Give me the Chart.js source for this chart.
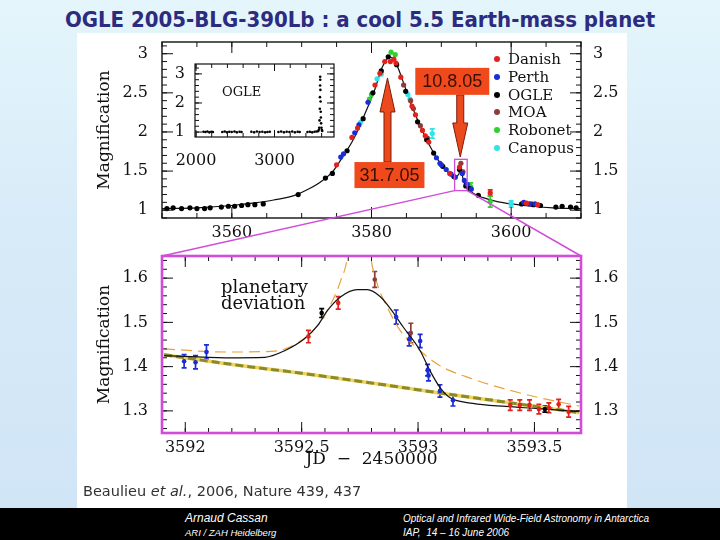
<!DOCTYPE html>
<html lang="en">
<head>
<meta charset="UTF-8">
<title>OGLE 2005-BLG-390Lb</title>
<script src="https://cdn.jsdelivr.net/npm/chart.js@4"></script>
<style>
  body { margin: 0; width: 720px; height: 540px; overflow: hidden; position: relative;
    background: linear-gradient(to bottom, #e4f5fb 0px, #d8ebf8 220px, #cfe4f6 540px); }
  .abs { position: absolute; }
  #panel { left: 77px; top: 33px; width: 550px; height: 475px; background: #fff; }
  #title { left: 0; top: 7px; width: 720px; text-align: center; white-space: nowrap;
    font: bold 22px "DejaVu Sans Condensed", "DejaVu Sans", sans-serif; color: #2c2b7f; }
  #legend { left: 491px; top: 51px; font: 15px "DejaVu Serif", serif; color: #111; }
  #legend div { height: 17.8px; line-height: 17.8px; white-space: nowrap; }
  #legend span { display: inline-block; width: 6px; height: 6px; border-radius: 3px; margin: 0 8px 2px 3px; vertical-align: middle; }
  #ogleTag { left: 222px; top: 84px; font: 13px "DejaVu Serif", serif; color: #111; }
  #dev { left: 221px; top: 279px; font: 18px "DejaVu Serif", serif; color: #111; line-height: 16px; }
  #cite { left: 83px; top: 483px; font: 14.5px "DejaVu Sans", sans-serif; color: #333; }
  #foot { left: 0; top: 508px; width: 720px; height: 32px; background: #000; color: #fff;
    font-family: "Liberation Sans", Arial, sans-serif; font-style: italic; }
  #foot div { position: absolute; white-space: nowrap; }
  canvas { position: absolute; }
</style>
</head>
<body>
<div id="panel" class="abs"></div>
<div id="title" class="abs">OGLE 2005-BLG-390Lb : a cool 5.5 Earth-mass planet</div>

<canvas id="topChart" width="540" height="212" style="left:90px;top:36px;width:540px;height:212px"></canvas>
<canvas id="insetChart" width="190" height="112" style="left:150px;top:58px;width:190px;height:112px"></canvas>
<canvas id="zoomChart" width="540" height="222" style="left:90px;top:250px;width:540px;height:222px"></canvas>
<canvas id="overlay" width="720" height="540" style="left:0;top:0;width:720px;height:540px;pointer-events:none"></canvas>

<div id="legend" class="abs"></div>
<div id="ogleTag" class="abs">OGLE</div>
<div id="dev" class="abs">planetary<br>deviation</div>
<div id="cite" class="abs">Beaulieu <i>et al.</i>, 2006, Nature 439, 437</div>
<div id="foot" class="abs">
  <div style="left:185px;top:3px;font-size:12px">Arnaud Cassan</div>
  <div style="left:185px;top:19px;font-size:9.5px">ARI / ZAH Heidelberg</div>
  <div style="left:403px;top:5px;font-size:10px">Optical and Infrared Wide-Field Astronomy in Antarctica</div>
  <div style="left:403px;top:19px;font-size:10px">IAP,&nbsp; 14 – 16 June 2006</div>
</div>

<script>
// observatories
const obsNames  = ['Danish', 'Perth', 'OGLE', 'MOA', 'Robonet', 'Canopus'];
const obsColors = ['#e3201b', '#1b2bd6', '#000000', '#8f3b37', '#2fd02f', '#30e2ea'];

// full light curve, [JD-2450000, magnification, error]
const danishTop = [[3575.0,1.58],[3577.2,1.93],[3578.0,2.05],[3580.5,2.60],[3581.2,2.75],[3581.9,2.90],[3582.7,2.90],
  [3583.2,2.93],[3583.5,2.88],[3584.2,2.70],[3585.8,2.33],[3586.3,2.22],[3587.3,2.02],[3587.7,1.95],[3588.2,1.87],
  [3591.2,1.47],[3592.6,1.55],[3597.0,1.22,0.04],[3602.2,1.09],[3603.8,1.07]];
const perthTop = [[3575.6,1.68],[3576.0,1.72],[3577.6,1.99],[3578.2,2.09],[3579.5,2.38],[3589.3,1.67],[3589.8,1.60],
  [3590.0,1.58],[3590.7,1.52],[3591.4,1.46],[3592.0,1.42],[3593.0,1.47],[3593.3,1.38],[3593.7,1.33],[3594.3,1.27],
  [3601.8,1.10],[3602.6,1.08],[3603.4,1.08]];
const ogleTop = [[3550.7,1.02],[3551.6,1.03],[3552.8,1.02],[3554.0,1.03],[3555.0,1.02],[3556.1,1.02],[3556.9,1.03],
  [3558.5,1.04],[3559.5,1.05],[3560.4,1.05],[3561.4,1.06],[3562.3,1.07],[3563.3,1.07],[3564.5,1.08],[3569.5,1.20],
  [3573.4,1.41],[3574.4,1.47],[3576.5,1.76],[3578.8,2.17],[3580.2,2.50],[3581.4,2.78],[3582.4,2.96],[3583.6,2.86],
  [3584.9,2.52],[3586.6,2.13],[3587.9,1.90],[3588.9,1.73],[3590.2,1.56],[3591.8,1.43],[3592.6,1.52],[3593.5,1.31],
  [3594.0,1.28],[3595.3,1.19],[3601.5,1.08],[3603.2,1.07],[3604.2,1.06],[3606.4,1.04],[3607.3,1.05],[3608.5,1.04],[3609.3,1.03]];
const moaTop = [[3584.6,2.60],[3585.6,2.40],[3586.0,2.30],[3587.0,2.08],[3588.0,1.92],[3592.8,1.60],[3593.1,1.49],[3602.9,1.08]];
const robonetTop = [[3579.7,2.42],[3580.0,2.48],[3582.8,3.02],[3583.4,2.99],[3594.2,1.30,0.05],[3597.0,1.11,0.07]];
const canopusTop = [[3578.4,2.12],[3580.8,2.68],[3581.4,2.74],[3585.2,2.48],[3585.5,2.42],[3588.7,1.98,0.06],[3600.0,1.08,0.04]];

// best-fit model
const modelTop = [[3550,1.02],[3555,1.03],[3560,1.06],[3563,1.09],[3566,1.13],[3569,1.19],[3571,1.27],[3573,1.38],
  [3574.5,1.50],[3576,1.70],[3577.5,1.92],[3579,2.22],[3580.5,2.55],[3581.5,2.82],[3582.6,2.96],[3583.5,2.88],
  [3584.5,2.65],[3585.7,2.35],[3587,2.07],[3588.3,1.83],[3589.7,1.62],[3591,1.48],[3592,1.43],[3592.5,1.46],
  [3592.8,1.57],[3593.1,1.40],[3593.4,1.32],[3594.5,1.22],[3596,1.16],[3598,1.11],[3600,1.08],[3603,1.05],
  [3606,1.03],[3610,1.02]];

// zoom on the planetary deviation
const perthZoom = [[3591.995,1.412,0.015],[3592.044,1.410,0.015],[3592.091,1.433,0.016],[3592.906,1.512,0.016],
  [3592.962,1.462,0.015],[3593.009,1.458,0.015],[3593.041,1.392,0.013],[3593.045,1.380,0.012],[3593.094,1.345,0.014],
  [3593.150,1.324,0.013]];
const danishZoom = [[3592.529,1.468,0.014],[3592.657,1.544,0.014],[3593.396,1.313,0.012],[3593.437,1.313,0.012],
  [3593.479,1.313,0.012],[3593.519,1.304,0.011],[3593.562,1.307,0.011],[3593.604,1.315,0.011],[3593.647,1.298,0.012]];
const ogleZoom = [[3592.586,1.521,0.010],[3593.545,1.304,0.007]];
const moaZoom = [[3592.814,1.597,0.018],[3592.969,1.476,0.022]];

const planetFit = [[3591.909,1.425],[3592.172,1.420],[3592.342,1.421],[3592.427,1.436],[3592.512,1.463],[3592.569,1.493],
  [3592.611,1.527],[3592.668,1.558],[3592.739,1.574],[3592.782,1.574],[3592.838,1.558],[3592.881,1.531],[3592.937,1.489],
  [3593.009,1.436],[3593.051,1.391],[3593.094,1.353],[3593.136,1.330],[3593.235,1.317],[3593.377,1.310],[3593.519,1.305],
  [3593.692,1.298]];
const altFit = [[3591.909,1.440],[3592.172,1.433],[3592.385,1.435],[3592.498,1.459],[3592.569,1.493],[3592.626,1.542],
  [3592.668,1.595],[3592.697,1.652],[3592.745,1.95],[3592.796,1.652],[3592.824,1.588],[3592.867,1.535],[3592.923,1.482],
  [3593.009,1.436],[3593.094,1.402],[3593.235,1.372],[3593.377,1.349],[3593.519,1.330],[3593.692,1.311]];
const singleLens = [[3591.909,1.427],[3592.2,1.405],[3592.5,1.385],[3592.8,1.363],[3593.1,1.340],[3593.4,1.318],[3593.692,1.296]];

// OGLE seasons (inset)
const ogleSeasons = [[2095,1.01],[2120,1.00],[2145,1.02],[2170,0.99],[2195,1.01],[2215,1.00],
  [2335,1.00],[2365,1.02],[2395,0.99],[2425,1.01],[2455,1.00],[2490,1.02],[2520,0.99],[2555,1.01],[2580,1.00],
  [2705,1.01],[2740,0.99],[2775,1.02],[2810,1.00],[2845,1.01],[2880,0.99],[2910,1.00],[2940,1.01],
  [3050,1.00],[3085,1.02],[3120,0.99],[3155,1.01],[3190,1.00],[3225,1.02],[3260,0.99],[3295,1.01],[3320,1.00],
  [3420,1.00],[3450,1.01],[3480,0.99],[3510,1.01],[3535,1.02],[3555,1.03],
  [3565,1.08],[3570,1.15],[3574,1.40],[3577,1.80],[3579,2.20],[3581,2.60],[3582,2.90],[3583,2.80],[3585,2.45],
  [3587,2.05],[3589,1.70],[3591,1.50],[3594,1.30],[3598,1.15],[3603,1.07],[3608,1.04]];

// axes
const topX = [3550, 3610], topY = [0.9, 3.15];
const zoomX = [3591.9, 3593.7], zoomY = [1.25, 1.65];
const insetX = [1987, 3758], insetY = [0.83, 3.34];
const topXTicks = [3560, 3580, 3600], topYTicks = [1, 1.5, 2, 2.5, 3];
const zoomXTicks = [3592, 3592.5, 3593, 3593.5], zoomYTicks = [1.3, 1.4, 1.5, 1.6];
const insetXTicks = [2000, 3000], insetYTicks = [1, 2, 3];

// annotations (data coords)
const notes = [
  { text: '31.7.05', x: 3582.57, y: 1.449, w: 70, h: 26, arrowX: 3582.29, from: 1.615, to: 2.69 },
  { text: '10.8.05', x: 3591.57, y: 2.647, w: 74, h: 27, arrowX: 3592.71, from: 2.474, to: 1.68 }
];

const steps = (a, b, s) => { const r = []; for (let v = a; v <= b + 1e-9; v += s) r.push(+v.toFixed(4)); return r; };
const pts = arr => arr.map(p => ({ x: p[0], y: p[1], e: p[2] || 0 }));

Chart.defaults.font.family = 'DejaVu Serif';
Chart.defaults.color = '#111';

const inTicks = {
  id: 'inTicks',
  afterDatasetsDraw(chart, args, o) {
    const { ctx, chartArea: a } = chart;
    const xs = chart.scales.x, ys = chart.scales.y;
    ctx.save();
    ctx.strokeStyle = '#111';
    ctx.lineWidth = 1;
    ctx.beginPath();
    const mark = (list, len, horiz) => list.forEach(v => {
      if (horiz) {
        const px = xs.getPixelForValue(v);
        if (px < a.left || px > a.right) return;
        ctx.moveTo(px, a.bottom); ctx.lineTo(px, a.bottom - len);
        ctx.moveTo(px, a.top); ctx.lineTo(px, a.top + len);
      } else {
        const py = ys.getPixelForValue(v);
        if (py < a.top || py > a.bottom) return;
        ctx.moveTo(a.left, py); ctx.lineTo(a.left + len, py);
        ctx.moveTo(a.right, py); ctx.lineTo(a.right - len, py);
      }
    });
    mark(o.xMinor, o.minor, true); mark(o.xMajor, o.major, true);
    mark(o.yMinor, o.minor, false); mark(o.yMajor, o.major, false);
    ctx.stroke();
    ctx.strokeStyle = o.frame;
    ctx.lineWidth = o.frameWidth;
    ctx.strokeRect(a.left, a.top, a.right - a.left, a.bottom - a.top);
    ctx.restore();
  }
};

const errBars = {
  id: 'errBars',
  beforeDatasetsDraw(chart) {
    const { ctx, chartArea: a } = chart;
    const xs = chart.scales.x, ys = chart.scales.y;
    ctx.save();
    ctx.beginPath(); ctx.rect(a.left, a.top, a.right - a.left, a.bottom - a.top); ctx.clip();
    chart.data.datasets.forEach(ds => {
      ds.data.forEach(p => {
        if (!p.e) return;
        const px = xs.getPixelForValue(p.x);
        const y1 = ys.getPixelForValue(p.y - p.e), y2 = ys.getPixelForValue(p.y + p.e);
        ctx.strokeStyle = ds.pointBackgroundColor;
        ctx.lineWidth = 1.7;
        ctx.beginPath();
        ctx.moveTo(px, y1); ctx.lineTo(px, y2);
        ctx.moveTo(px - 2.5, y1); ctx.lineTo(px + 2.5, y1);
        ctx.moveTo(px - 2.5, y2); ctx.lineTo(px + 2.5, y2);
        ctx.stroke();
      });
    });
    ctx.restore();
  }
};

function arrow(ctx, x, yTail, yTip) {
  const dir = yTip < yTail ? -1 : 1;
  const hw = 3.5, HW = 7.5, HL = 34;
  const yb = yTip - dir * HL;
  ctx.beginPath();
  ctx.moveTo(x - hw, yTail); ctx.lineTo(x - hw, yb); ctx.lineTo(x - HW, yb); ctx.lineTo(x, yTip);
  ctx.lineTo(x + HW, yb); ctx.lineTo(x + hw, yb); ctx.lineTo(x + hw, yTail); ctx.closePath();
  ctx.fillStyle = '#ec4a1e'; ctx.fill();
  ctx.strokeStyle = '#7d1c06'; ctx.lineWidth = 1; ctx.stroke();
}

const notesPlugin = {
  id: 'notes',
  afterDraw(chart) {
    const { ctx } = chart;
    const xs = chart.scales.x, ys = chart.scales.y;
    ctx.save();
    // zoomed region
    const bx1 = xs.getPixelForValue(zoomX[0]), bx2 = xs.getPixelForValue(zoomX[1]);
    const by1 = ys.getPixelForValue(zoomY[1]), by2 = ys.getPixelForValue(zoomY[0]);
    ctx.strokeStyle = '#d24bd9'; ctx.lineWidth = 1.3;
    ctx.strokeRect(bx1, by1, bx2 - bx1, by2 - by1);
    notes.forEach(n => arrow(ctx, xs.getPixelForValue(n.arrowX), ys.getPixelForValue(n.from), ys.getPixelForValue(n.to)));
    notes.forEach(n => {
      const cx = xs.getPixelForValue(n.x), cy = ys.getPixelForValue(n.y);
      ctx.fillStyle = '#f04a1c';
      ctx.fillRect(cx - n.w / 2, cy - n.h / 2, n.w, n.h);
      ctx.fillStyle = '#3a0f02';
      ctx.font = '18px "Liberation Sans", Arial, sans-serif';
      ctx.textAlign = 'center'; ctx.textBaseline = 'middle';
      ctx.fillText(n.text, cx, cy + 1);
    });
    ctx.restore();
  }
};

// linear axis with fixed ticks; size forced, label overflow padding removed
function axis(range, ticks, pad, size, opts) {
  return Object.assign({
    type: 'linear', min: range[0], max: range[1],
    grid: { display: false, drawTicks: false }, border: { display: false },
    afterBuildTicks: s => { s.ticks = ticks.map(v => ({ value: v })); },
    afterFit: s => {
      if (s.isHorizontal()) s.height = size; else s.width = size;
      s.paddingTop = s.paddingBottom = s.paddingLeft = s.paddingRight = 0;
    },
    ticks: { autoSkip: false, maxRotation: 0, padding: pad, font: { size: 16 }, color: '#111', callback: v => String(v) }
  }, opts);
}

function obsSets(lists, radius) {
  return lists.map((l, i) => l && {
    label: obsNames[i], data: pts(l), pointRadius: radius, pointBorderWidth: 0,
    pointBackgroundColor: obsColors[i], borderColor: obsColors[i], order: 1
  }).filter(Boolean);
}

const magTitle = { display: true, text: 'Magnification', font: { size: 17 }, padding: { top: 4, bottom: 0 }, color: '#111' };
const base = { responsive: false, animation: false, events: [] };

const topChart = new Chart(document.getElementById('topChart'), {
  type: 'scatter',
  data: {
    datasets: [
      ...obsSets([danishTop, perthTop, ogleTop, moaTop, robonetTop, canopusTop], 2.6),
      { label: 'model', data: pts(modelTop), showLine: true, pointRadius: 0, borderColor: '#111', borderWidth: 1.2,
        cubicInterpolationMode: 'monotone', order: 2 }
    ]
  },
  options: Object.assign({}, base, {
    layout: { padding: { top: 6 } },
    plugins: { legend: { display: false }, tooltip: { enabled: false },
      inTicks: { xMajor: topXTicks, xMinor: steps(3550, 3610, 5), yMajor: topYTicks, yMinor: steps(0.9, 3.1, 0.1),
        major: 11, minor: 5, frame: '#111', frameWidth: 1.4 } },
    scales: {
      x: axis(topX, topXTicks, 5, 30),
      y: axis(topY, topYTicks, 14, 72, { position: 'left', title: magTitle }),
      y2: axis(topY, topYTicks, 12, 49, { position: 'right' })
    }
  }),
  plugins: [inTicks, errBars, notesPlugin]
});

const insetChart = new Chart(document.getElementById('insetChart'), {
  type: 'scatter',
  data: { datasets: [{ label: 'OGLE', data: pts(ogleSeasons), pointRadius: 1.3, pointBorderWidth: 0, pointBackgroundColor: '#000' }] },
  options: Object.assign({}, base, {
    layout: { padding: { top: 6, right: 6 } },
    plugins: { legend: { display: false }, tooltip: { enabled: false },
      inTicks: { xMajor: insetXTicks, xMinor: steps(2000, 3700, 200), yMajor: insetYTicks, yMinor: steps(1, 3.2, 0.2),
        major: 7, minor: 4, frame: '#111', frameWidth: 1.2 } },
    scales: {
      x: axis(insetX, insetXTicks, 14, 33),
      y: axis(insetY, insetYTicks, 10, 45, { position: 'left' })
    }
  }),
  plugins: [inTicks]
});

const zoomChart = new Chart(document.getElementById('zoomChart'), {
  type: 'scatter',
  data: {
    datasets: [
      ...obsSets([danishZoom, perthZoom, ogleZoom, moaZoom], 2.3),
      { label: 'planet', data: pts(planetFit), showLine: true, pointRadius: 0, borderColor: '#111', borderWidth: 1.2,
        cubicInterpolationMode: 'monotone', order: 2 },
      { label: 'alt', data: pts(altFit), showLine: true, pointRadius: 0, borderColor: '#e9a23c', borderWidth: 1.2,
        borderDash: [11, 6], cubicInterpolationMode: 'monotone', order: 3 },
      { label: 'single', data: pts(singleLens), showLine: true, pointRadius: 0, borderColor: '#8a8a2c', borderWidth: 3,
        borderDash: [8, 4], cubicInterpolationMode: 'monotone', order: 4 },
      { label: 'single glow', data: pts(singleLens), showLine: true, pointRadius: 0, borderColor: '#f1d35c', borderWidth: 3.5,
        cubicInterpolationMode: 'monotone', order: 5 }
    ]
  },
  options: Object.assign({}, base, {
    layout: { padding: { top: 6 } },
    plugins: { legend: { display: false }, tooltip: { enabled: false },
      inTicks: { xMajor: zoomXTicks, xMinor: steps(3591.9, 3593.7, 0.1), yMajor: zoomYTicks, yMinor: steps(1.26, 1.64, 0.02),
        major: 11, minor: 5, frame: '#d24bd9', frameWidth: 2.6 } },
    scales: {
      x: axis(zoomX, zoomXTicks, 5, 39, {
        title: { display: true, text: 'JD  \u2212  2450000', font: { size: 17 }, padding: { top: 0, bottom: 2 }, color: '#111' } }),
      y: axis(zoomY, zoomYTicks, 14, 72, { position: 'left', title: magTitle }),
      y2: axis(zoomY, zoomYTicks, 12, 49, { position: 'right' })
    }
  }),
  plugins: [inTicks, errBars]
});

// connector lines from the boxed region to the zoom panel
(function () {
  const ov = document.getElementById('overlay').getContext('2d');
  const tc = document.getElementById('topChart'), zc = document.getElementById('zoomChart');
  const xs = topChart.scales.x, ys = topChart.scales.y, za = zoomChart.chartArea;
  const y0 = ys.getPixelForValue(zoomY[0]) + tc.offsetTop;
  ov.strokeStyle = '#d24bd9';
  ov.lineWidth = 1.5;
  ov.beginPath();
  ov.moveTo(xs.getPixelForValue(zoomX[0]) + tc.offsetLeft, y0);
  ov.lineTo(za.left + zc.offsetLeft, za.top + zc.offsetTop);
  ov.moveTo(xs.getPixelForValue(zoomX[1]) + tc.offsetLeft, y0);
  ov.lineTo(za.right + zc.offsetLeft, za.top + zc.offsetTop);
  ov.stroke();
})();

// legend
document.getElementById('legend').innerHTML = obsNames.map((n, i) =>
  '<div><span style="background:' + obsColors[i] + '"></span>' + n + '</div>').join('');
</script>
</body>
</html>
